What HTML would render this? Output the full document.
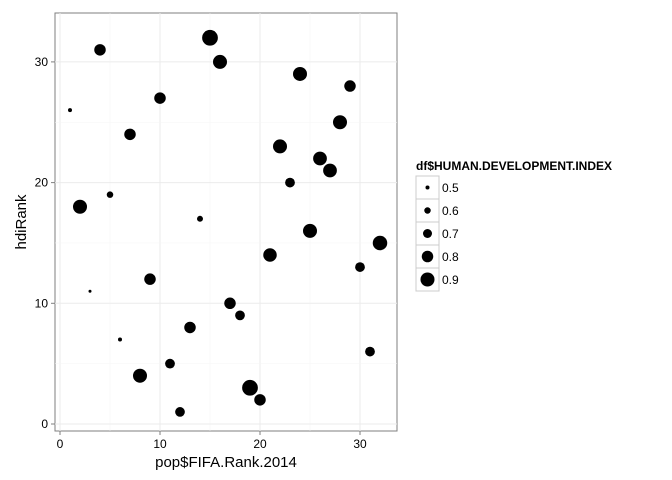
<!DOCTYPE html>
<html><head><meta charset="utf-8"><style>
body{margin:0;background:#fff}
svg{display:block;font-family:"Liberation Sans",Arial,sans-serif}
</style></head><body>
<svg id="chart" width="672" height="480">
<rect x="55" y="13" width="342" height="418" fill="#fff" stroke="#7f7f7f" stroke-width="1"/>
<g id="grid"></g><g id="pts"></g><g id="axes"></g><g id="legend"></g>
</svg>
<script>
const xVals=[1,2,3,4,5,6,7,8,9,10,11,12,13,14,15,16,17,18,19,20,21,22,23,24,25,26,27,28,29,30,31,32];
const yVals=[26,18,11,31,19,7,24,4,12,27,5,1,8,17,32,30,10,9,3,2,14,23,20,29,16,22,21,25,28,13,6,15];
const hdiVals=[0.5,0.9,0.46,0.8,0.6,0.5,0.8,0.9,0.8,0.8,0.73,0.73,0.8,0.58,0.97,0.9,0.8,0.73,0.97,0.8,0.88,0.9,0.73,0.9,0.9,0.89,0.89,0.9,0.8,0.73,0.73,0.92];
const xTicks=[0,10,20,30];
const yTicks=[0,10,20,30];
const legendVals=[0.5,0.6,0.7,0.8,0.9];
const NS="http://www.w3.org/2000/svg";
const X=v=>60+v*10;
const Y=v=>424-v*12.07;
const R=h=>Math.max(1,2+(h-0.5)*12.5);
function mk(tag,attrs,parent,text){const e=document.createElementNS(NS,tag);for(const k in attrs)e.setAttribute(k,attrs[k]);if(text!==undefined)e.textContent=text;parent.appendChild(e);return e;}
const grid=document.getElementById('grid'),pts=document.getElementById('pts'),axes=document.getElementById('axes'),leg=document.getElementById('legend');
for(let v=0;v<=35;v+=5){if(X(v)>55&&X(v)<397){const l=mk('line',{x1:X(v),x2:X(v),y1:13,y2:431,stroke:v%10?'#f5f5f5':'#ebebeb','stroke-width':v%10?0.5:1},grid);

}}
for(let v=0;v<=32;v+=5){const l=mk('line',{x1:55,x2:397,y1:Y(v),y2:Y(v),stroke:v%10?'#f5f5f5':'#ebebeb','stroke-width':v%10?0.5:1},grid);

}
xVals.forEach((x,i)=>{const c=mk('circle',{cx:X(x),cy:Y(yVals[i]),r:R(hdiVals[i]),fill:'#000'},pts);

});
xTicks.forEach(t=>{mk('line',{x1:X(t),x2:X(t),y1:431,y2:435,stroke:'#7f7f7f'},axes);
const tx=mk('text',{x:X(t),y:448,'text-anchor':'middle','font-size':12,fill:'#000'},axes,t);

});
yTicks.forEach(t=>{mk('line',{x1:51,x2:55,y1:Y(t),y2:Y(t),stroke:'#7f7f7f'},axes);
const tx=mk('text',{x:48,y:Y(t)+4,'text-anchor':'end','font-size':12,fill:'#000'},axes,t);

});
const xt=mk('text',{x:226,y:467,'text-anchor':'middle','font-size':15},axes,'pop$FIFA.Rank.2014');


const yt=mk('text',{x:0,y:0,'text-anchor':'middle','font-size':15,transform:'translate(26,222) rotate(-90)'},axes,'hdiRank');


const lt=mk('text',{x:416,y:170,'font-size':12,'font-weight':'bold'},leg,'df$HUMAN.DEVELOPMENT.INDEX');


legendVals.forEach((v,i)=>{const y0=176+i*23;
const b=mk('rect',{x:416,y:y0,width:23,height:23,fill:'#fff',stroke:'#ccc'},leg);


mk('circle',{cx:427.5,cy:y0+11.5,r:R(v),fill:'#000'},leg);
const t=mk('text',{x:442,y:y0+16,'font-size':12},leg,v);

});
</script>
</body></html>
